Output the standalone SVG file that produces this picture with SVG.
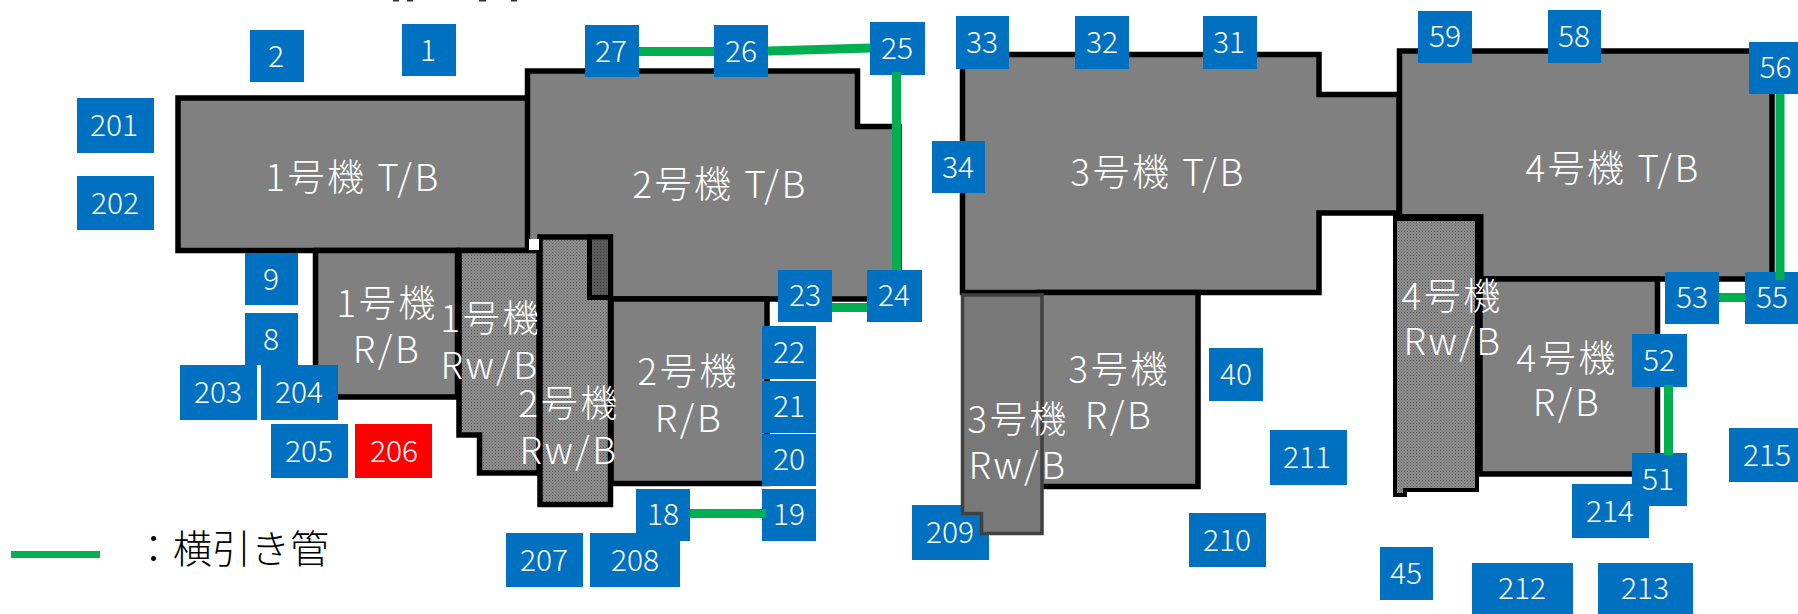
<svg xmlns="http://www.w3.org/2000/svg" width="1798" height="614" viewBox="0 0 1798 614">
<style>
text{font-family:"Noto Sans CJK JP","Noto Sans",sans-serif;font-weight:300}
.n{font-size:30px;fill:#fff;text-anchor:middle}
.l{font-size:37px;fill:#fff;text-anchor:middle;letter-spacing:2.5px}
.box{fill:#0070c0}
.b{fill:#808080;stroke:#000;stroke-width:5.5;stroke-linejoin:miter}
.w{fill:url(#dots);stroke:#000;stroke-width:5.5}
.pipe{stroke:#00b050;stroke-width:9;fill:none}
</style>
<defs>
<pattern id="dots" width="3" height="3" patternUnits="userSpaceOnUse"><rect width="3" height="3" fill="#8e8e8e"/><rect width="1" height="1" fill="#5c5c5c"/><rect x="1.5" y="1.5" width="1" height="1" fill="#6a6a6a"/></pattern>
<pattern id="dark" width="3" height="3" patternUnits="userSpaceOnUse"><rect width="3" height="3" fill="#5a5a5a"/><rect width="1" height="1" fill="#3c3c3c"/></pattern>
</defs>
<g id="clipped-title" fill="#333"><rect x="393" y="0" width="6" height="1.5"/><rect x="407" y="0" width="6" height="1.5"/><rect x="479" y="0" width="7" height="1.5"/><rect x="511" y="0" width="6" height="1.5"/></g>

<g id="tb1"><rect class="b" x="178" y="98" width="350" height="152.5"/><text class="l" x="353" y="190.5">1号機 T/B</text></g>
<g id="tb2"><path class="b" d="M527.5 71H857.5V126.5H899V299H527.5Z"/><text class="l" x="720" y="198">2号機 T/B</text></g>
<g id="rb1"><rect class="b" x="315.5" y="250.5" width="142" height="146.5"/><text class="l" x="387" y="317">1号機</text><text class="l" x="387" y="363">R/B</text></g>
<g id="rwb1"><path class="w" d="M459 250.5H539V473H479.5V435H459Z"/><text class="l" x="491" y="332">1号機</text><text class="l" x="490" y="379">Rw/B</text></g>
<g id="rb2"><rect class="b" x="611" y="299" width="156" height="184.5"/><text class="l" x="688" y="385">2号機</text><text class="l" x="689" y="432">R/B</text></g>
<g id="rwb2"><path class="w" d="M540 237H610.5V504.5H540Z"/><path d="M589.5 237V297.5H610.5V237Z" fill="url(#dark)" stroke="#000" stroke-width="5"/><text class="l" x="569" y="417">2号機</text><text class="l" x="569" y="464">Rw/B</text></g>
<rect id="gap" x="529" y="239" width="10" height="11" fill="#fff"/>

<g id="tb3"><path class="b" d="M962.5 54.5H1319V94.5H1399V213H1319V292.5H962.5Z"/><text class="l" x="1158" y="186">3号機 T/B</text></g>
<g id="rb3"><rect class="b" x="1040" y="292.5" width="158" height="194"/><text class="l" x="1119" y="383">3号機</text><text class="l" x="1119" y="429">R/B</text></g>
<g id="n209"><rect class="box" x="912" y="505" width="77" height="55"/><text class="n" x="950" y="543">209</text></g>
<g id="rwb3"><path d="M962.5 295H1042V533.5H981.5V513.5H962.5Z" fill="#787878" stroke="#404040" stroke-width="3.5"/><text class="l" x="1018" y="433">3号機</text><text class="l" x="1018" y="479">Rw/B</text></g>

<g id="tb4"><rect class="b" x="1399.5" y="51" width="372.5" height="228"/><text class="l" x="1613" y="182">4号機 T/B</text></g>
<g id="rb4"><rect class="b" x="1480" y="279" width="177.5" height="195"/><text class="l" x="1567" y="372">4号機</text><text class="l" x="1567" y="416">R/B</text></g>
<g id="rwb4"><path class="w" style="stroke-width:4" d="M1395 216H1477V490H1405V495H1395Z"/><path d="M1393 217.5H1480V282" fill="none" stroke="#000" stroke-width="7"/><text class="l" x="1452" y="310">4号機</text><text class="l" x="1453" y="355">Rw/B</text></g>

<g id="n2"><rect class="box" x="250" y="30" width="54" height="52"/><text class="n" x="276" y="66.5">2</text></g>
<g id="n1"><rect class="box" x="402" y="24" width="54" height="52"/><text class="n" x="428" y="60.5">1</text></g>
<g id="n201"><rect class="box" x="77" y="98" width="77" height="55"/><text class="n" x="114" y="136">201</text></g>
<g id="n202"><rect class="box" x="77" y="176" width="77" height="54"/><text class="n" x="115" y="213.5">202</text></g>
<g id="n9"><rect class="box" x="245" y="253" width="53" height="52"/><text class="n" x="271" y="289.5">9</text></g>
<g id="n8"><rect class="box" x="245" y="313" width="53" height="52"/><text class="n" x="271" y="349.5">8</text></g>
<g id="n203"><rect class="box" x="180" y="365" width="77" height="55"/><text class="n" x="218" y="403">203</text></g>
<g id="n204"><rect class="box" x="261" y="365" width="77" height="55"/><text class="n" x="299" y="403">204</text></g>
<g id="n205"><rect class="box" x="271" y="424" width="77" height="54"/><text class="n" x="309" y="461.5">205</text></g>
<g id="n206"><rect x="355" y="424" width="77" height="54" fill="#f00"/><text class="n" x="394" y="461.5">206</text></g>
<g id="n18"><rect class="box" x="636" y="489" width="54" height="52"/><text class="n" x="663" y="525">18</text></g>
<g id="n207"><rect class="box" x="506" y="533" width="77" height="54"/><text class="n" x="544" y="570.5">207</text></g>
<g id="n208"><rect class="box" x="590" y="533" width="90" height="54"/><text class="n" x="635" y="570.5">208</text></g>
<g id="n19"><rect class="box" x="762" y="489" width="54" height="52"/><text class="n" x="789" y="525">19</text></g>
<g id="n20"><rect class="box" x="762" y="434" width="54" height="52"/><text class="n" x="789" y="470">20</text></g>
<g id="n21"><rect class="box" x="762" y="381" width="54" height="52"/><text class="n" x="789" y="417">21</text></g>
<g id="n22"><rect class="box" x="762" y="326" width="54" height="53"/><text class="n" x="789" y="362.5">22</text></g>
<g id="n23"><rect class="box" x="778" y="270" width="54" height="52"/><text class="n" x="805" y="306">23</text></g>
<g id="n24"><rect class="box" x="867" y="270" width="55" height="52"/><text class="n" x="894" y="306">24</text></g>
<g id="n25"><rect class="box" x="870" y="22" width="55" height="53"/><text class="n" x="897" y="59">25</text></g>
<g id="n26"><rect class="box" x="714" y="25" width="54" height="52"/><text class="n" x="741" y="61.5">26</text></g>
<g id="n27"><rect class="box" x="585" y="25" width="54" height="52"/><text class="n" x="611" y="61.5">27</text></g>
<g id="n33"><rect class="box" x="956" y="16" width="53" height="53"/><text class="n" x="982" y="53">33</text></g>
<g id="n32"><rect class="box" x="1075" y="16" width="54" height="53"/><text class="n" x="1102" y="53">32</text></g>
<g id="n31"><rect class="box" x="1203" y="16" width="54" height="53"/><text class="n" x="1229" y="53">31</text></g>
<g id="n34"><rect class="box" x="932" y="141" width="53" height="52"/><text class="n" x="958" y="177.5">34</text></g>
<g id="n59"><rect class="box" x="1418" y="11" width="54" height="52"/><text class="n" x="1445" y="47">59</text></g>
<g id="n58"><rect class="box" x="1548" y="10" width="53" height="53"/><text class="n" x="1574" y="47">58</text></g>
<g id="n56"><rect class="box" x="1749" y="42" width="54" height="52"/><text class="n" x="1775.5" y="78">56</text></g>
<g id="n55"><rect class="box" x="1745" y="272" width="54" height="52"/><text class="n" x="1772" y="308">55</text></g>
<g id="n53"><rect class="box" x="1665" y="272" width="54" height="52"/><text class="n" x="1692" y="308">53</text></g>
<g id="n52"><rect class="box" x="1632" y="334" width="55" height="53"/><text class="n" x="1659" y="371">52</text></g>
<g id="n40"><rect class="box" x="1209" y="348" width="54" height="53"/><text class="n" x="1236" y="385">40</text></g>
<g id="n211"><rect class="box" x="1270" y="430" width="77" height="55"/><text class="n" x="1307" y="468">211</text></g>
<g id="n210"><rect class="box" x="1189" y="513" width="77" height="54"/><text class="n" x="1227" y="550.5">210</text></g>
<g id="n45"><rect class="box" x="1380" y="547" width="53" height="53"/><text class="n" x="1406" y="584">45</text></g>
<g id="n212"><rect class="box" x="1472" y="563" width="101" height="51"/><text class="n" x="1522" y="599">212</text></g>
<g id="n213"><rect class="box" x="1598" y="563" width="95" height="51"/><text class="n" x="1645" y="599">213</text></g>
<g id="n214"><rect class="box" x="1572" y="484" width="77" height="54"/><text class="n" x="1610" y="521.5">214</text></g>
<g id="n51"><rect class="box" x="1632" y="453" width="55" height="53"/><text class="n" x="1658" y="490">51</text></g>
<g id="n215"><rect class="box" x="1729" y="428" width="77" height="54"/><text class="n" x="1767" y="465.5">215</text></g>

<g id="connectors">
<path class="pipe" d="M639 51.5H714"/>
<path class="pipe" d="M768 51L870 48"/>
<path class="pipe" d="M896.5 72V270"/>
<path class="pipe" d="M832 307.5H867"/>
<path class="pipe" d="M690 513.5H766"/>
<path class="pipe" d="M1668.5 385V455"/>
<path class="pipe" d="M1719 297.5H1745"/>
<path class="pipe" d="M1780 94V280"/>
</g>
<g id="legend"><path d="M11 554.5H100" stroke="#00b050" stroke-width="7"/><text x="134" y="563" font-size="39" fill="#000">：横引き管</text></g>
</svg>
